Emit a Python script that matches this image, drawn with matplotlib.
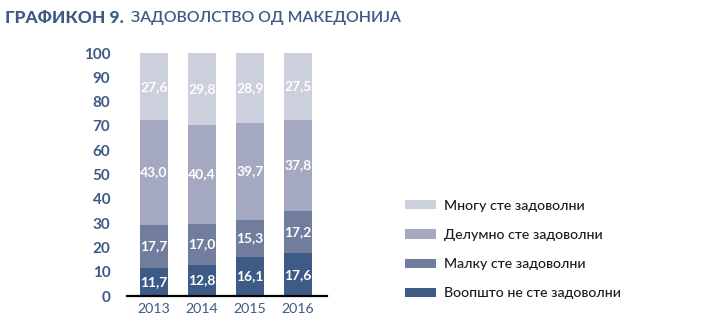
import matplotlib.pyplot as plt
import numpy as np

plt.rcParams['font.family'] = ['Lato', 'DejaVu Sans']

years = ['2013', '2014', '2015', '2016']
not_at_all = [11.7, 12.8, 16.1, 17.6]
little = [17.7, 17.0, 15.3, 17.2]
partly = [43.0, 40.4, 39.7, 37.8]
very = [27.6, 29.8, 28.9, 27.5]

series = [
    ('Воопшто не сте задоволни', not_at_all, '#3e5b87'),
    ('Малку сте задоволни', little, '#717d9d'),
    ('Делумно сте задоволни', partly, '#a4a9c1'),
    ('Многу сте задоволни', very, '#cccfdc'),
]

navy = '#3d5a85'

fig = plt.figure(figsize=(7.06, 3.31), dpi=100)
ax = fig.add_axes([0.180, 0.1057, 0.283, 0.734])

x = np.arange(len(years))
bottom = np.zeros(len(years))
handles = []
for name, vals, color in series:
    vals = np.array(vals)
    bars = ax.bar(x, vals, width=0.583, bottom=bottom, color=color, label=name)
    handles.append(bars)
    for xi, b, v in zip(x, bottom, vals):
        ax.text(xi, b + v / 2, f'{v:.1f}'.replace('.', ','), ha='center', va='center',
                color='white', fontsize=10, fontweight='bold')
    bottom += vals

ax.set_xlim(-0.5625, 3.604)
ax.set_ylim(0, 100)
ax.set_yticks(range(0, 101, 10))
ax.set_xticks(x)
ax.set_xticklabels(years)
ax.tick_params(axis='y', length=0, pad=12, labelsize=11, labelcolor=navy)
ax.tick_params(axis='x', length=0, pad=5, labelsize=10.2, labelcolor=navy)
for lbl in ax.get_yticklabels():
    lbl.set_fontweight('bold')
for s in ['top', 'right', 'left']:
    ax.spines[s].set_visible(False)
ax.spines['bottom'].set_linewidth(1.6)
ax.spines['bottom'].set_color('black')

leg = fig.legend(handles=handles[::-1], labels=[s[0] for s in series[::-1]],
                 loc='upper left', bbox_to_anchor=(0.565, 0.414), frameon=False,
                 fontsize=10.2, handlelength=2.25, handleheight=0.62,
                 labelspacing=1.22, handletextpad=0.5, borderaxespad=0)
for t in leg.get_texts():
    t.set_color('#1a1a1a')
    t.set_fontweight('medium')

fig.text(0.007, 0.945, 'ГРАФИКОН 9.', fontsize=12.5, fontweight='black',
         color=navy, va='center')
fig.text(0.186, 0.945, 'ЗАДОВОЛСТВО ОД МАКЕДОНИЈА', fontsize=11.4,
         fontweight='semibold', color=navy, va='center')

fig.savefig('out.png', dpi=100)
